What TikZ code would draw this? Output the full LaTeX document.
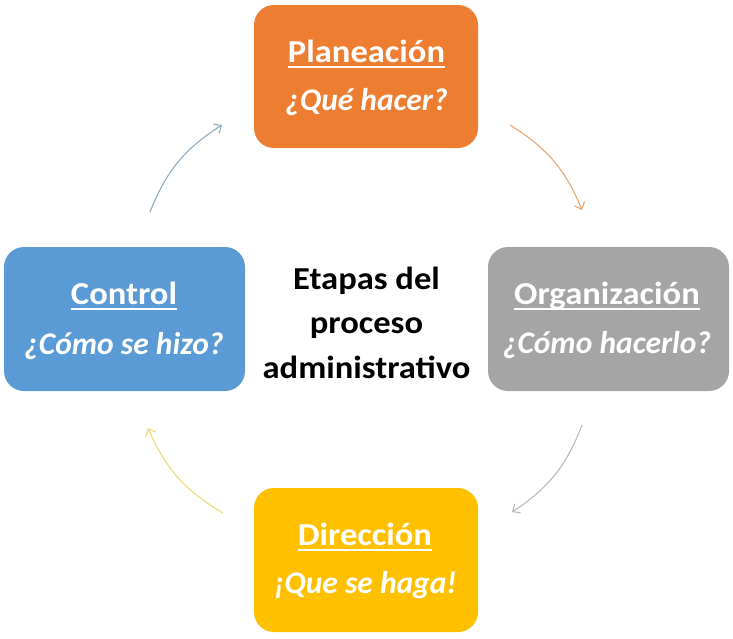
\documentclass[tikz,border=0pt]{standalone}
\usepackage{fontspec}
\newfontfamily\calfont[FakeStretch=1.08]{Carlito}
\newfontfamily\calitfont{Carlito}
\usetikzlibrary{arrows.meta}
\definecolor{cOrange}{HTML}{ED7D31}
\definecolor{cBlue}{HTML}{5B9BD5}
\definecolor{cGray}{HTML}{A5A5A5}
\definecolor{cGold}{HTML}{FFC000}
\definecolor{aBlue}{HTML}{8FADBE}
\definecolor{aOrange}{HTML}{E9A675}
\definecolor{aGray}{HTML}{BBBBBB}
\definecolor{aGold}{HTML}{F0DB78}
\newcommand\myul[1]{\setbox0\hbox{#1}\rlap{\raisebox{-6pt}{\rule{\wd0}{2pt}}}\box0}
\begin{document}
\begin{tikzpicture}[x=1pt,y=-1pt,
  box/.style={draw=none,rounded corners=20pt,minimum width=241pt,minimum height=144pt,inner sep=0pt},
  txt/.style={anchor=base,inner sep=0pt,font=\calfont\bfseries\fontsize{32}{40}\selectfont},
  ttl/.style={txt,text=white},
  sub/.style={txt,text=white,font=\calitfont\bfseries\itshape\fontsize{31.5}{40}\selectfont},
  arr/.style={line width=1.1pt,-{Straight Barb[length=6pt,width=11pt]},bend left=18}]
\useasboundingbox (0,0) rectangle (733,638);
\node[box,fill=cOrange,minimum width=224pt,minimum height=143pt] (plan) at (366,76.5) {};
\node[box,fill=cBlue] (ctrl) at (124.5,319) {};
\node[box,fill=cGray] (org) at (608.5,319) {};
\node[box,fill=cGold,minimum width=224pt] (dir) at (366,560) {};
\node[ttl] (planT) at (366.5,62) {\myul{Planeación}};
\node[sub] (planS) at (366.5,110) {¿Qué hacer?};
\node[ttl] (ctrlT) at (124,304) {\myul{Control}};
\node[sub] (ctrlS) at (124,354) {¿Cómo se hizo?};
\node[ttl] (orgT) at (607,304) {\myul{Organización}};
\node[sub] (orgS) at (607,353) {¿Cómo hacerlo?};
\node[ttl] (dirT) at (365,545) {\myul{Dirección}};
\node[sub] (dirS) at (365.5,593) {¡Que se haga!};
\node[txt,text=black] (c1) at (366.5,289) {Etapas del};
\node[txt,text=black] (c2) at (366.5,333.5) {proceso};
\node[txt,text=black] (c3) at (366.5,378) {administrativo};
\coordinate (a1s) at (150,212); \coordinate (a1e) at (222,125);
\coordinate (a2s) at (510,125); \coordinate (a2e) at (582,210);
\coordinate (a3s) at (582,425); \coordinate (a3e) at (512,512);
\coordinate (a4s) at (223,513); \coordinate (a4e) at (148,428);
\draw[arr,aBlue] (a1s) to (a1e);
\draw[arr,aOrange] (a2s) to (a2e);
\draw[arr,aGray] (a3s) to (a3e);
\draw[arr,aGold] (a4s) to (a4e);
\end{tikzpicture}
\end{document}
